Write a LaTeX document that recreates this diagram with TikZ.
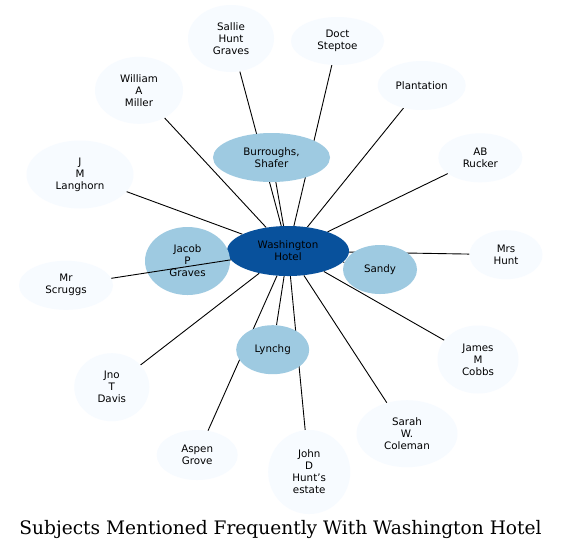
\documentclass[tikz,border=0pt]{standalone}
\usepackage{fontspec}
\setmainfont{DejaVu Sans}
\newfontfamily\titlefont{DejaVu Serif}
\usetikzlibrary{shapes.geometric,backgrounds}
\definecolor{lightc}{HTML}{F7FBFF}
\definecolor{midc}{HTML}{9ECAE1}
\definecolor{darkc}{HTML}{08519C}
\tikzset{
  base/.style={ellipse, inner sep=0pt, align=center, font=\fontsize{10.3}{12}\selectfont},
  leaf/.style={base, fill=lightc},
  mid/.style={base, fill=midc},
  hub/.style={base, fill=darkc},
  link/.style={draw=black, line width=0.9pt},
}
\begin{document}
\begin{tikzpicture}[x=1pt,y=-1pt]
\useasboundingbox (0,0) rectangle (561,550);
% hub
\node[hub, minimum width=122pt, minimum height=50pt] (w) at (288,251) {Washington\\Hotel};
% mid nodes
\node[mid, minimum width=117pt, minimum height=49pt] (bur) at (271.5,157.5) {Burroughs,\\Shafer};
\node[mid, minimum width=85pt, minimum height=68pt] (jac) at (187.5,261) {Jacob\\P\\Graves};
\node[mid, minimum width=74pt, minimum height=49pt] (san) at (380,269.5) {Sandy};
\node[mid, minimum width=73pt, minimum height=49pt] (lyn) at (272.7,349.7) {Lynchg};
% leaf nodes
\node[leaf, minimum width=86pt, minimum height=67pt] (sal) at (231,38.5) {Sallie\\Hunt\\Graves};
\node[leaf, minimum width=93pt, minimum height=48pt] (doc) at (337.5,41) {Doct\\Steptoe};
\node[leaf, minimum width=88pt, minimum height=49pt] (pla) at (421.7,85.5) {Plantation};
\node[leaf, minimum width=84pt, minimum height=49pt] (abr) at (480.3,157.8) {AB\\Rucker};
\node[leaf, minimum width=73pt, minimum height=49pt] (mrh) at (506,254.7) {Mrs\\Hunt};
\node[leaf, minimum width=81pt, minimum height=68pt] (jmc) at (478,359.5) {James\\M\\Cobbs};
\node[leaf, minimum width=101pt, minimum height=67pt] (swc) at (407,433.7) {Sarah\\W.\\Coleman};
\node[leaf, minimum width=82pt, minimum height=84pt] (jdh) at (309.2,472) {John\\D\\Hunt's\\estate};
\node[leaf, minimum width=81pt, minimum height=50pt] (asp) at (197.2,455) {Aspen\\Grove};
\node[leaf, minimum width=75pt, minimum height=68pt] (jtd) at (111.8,387.2) {Jno\\T\\Davis};
\node[leaf, minimum width=94pt, minimum height=49pt] (mrs) at (66,285.3) {Mr\\Scruggs};
\node[leaf, minimum width=107pt, minimum height=68pt] (jml) at (80,174.5) {J\\M\\Langhorn};
\node[leaf, minimum width=88pt, minimum height=67pt] (wam) at (139,90.3) {William\\A\\Miller};
% connectors behind nodes
\begin{pgfonlayer}{background}
\fill[white] (0,0) rectangle (561,550);
\foreach \t in {bur,san,lyn,sal,doc,pla,abr,mrh,jmc,swc,jdh,asp,jtd,jml,wam}
  \draw[link] (w) -- (\t);
\draw[link] (w) -- (jac);
\end{pgfonlayer}
% connector drawn over Jacob
\draw[link] (w) -- (mrs);
% title
\node[font=\titlefont\fontsize{18.6}{22}\selectfont, anchor=base] (title) at (280.5,534) {Subjects Mentioned Frequently With Washington Hotel};
\end{tikzpicture}
\end{document}
